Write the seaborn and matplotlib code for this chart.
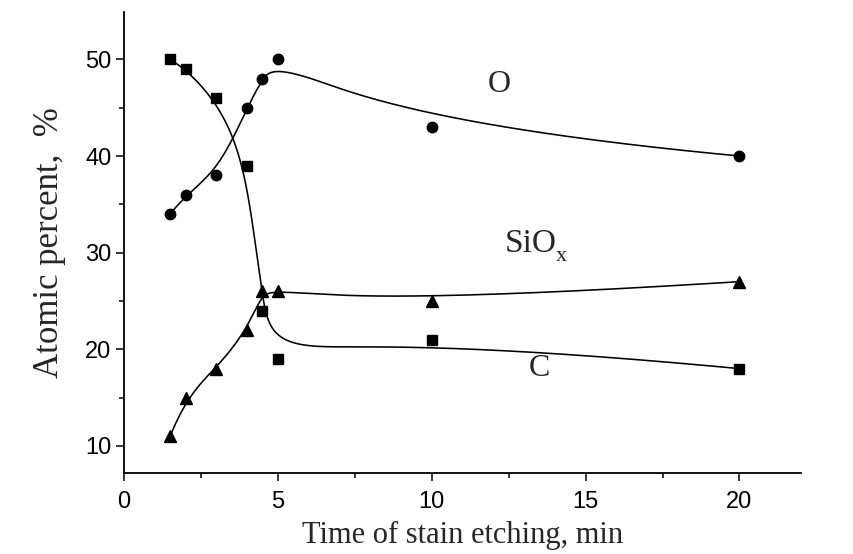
import numpy as np
import pandas as pd
import matplotlib
matplotlib.use("Agg")
import matplotlib.pyplot as plt
import seaborn as sns

# ---- data ----
time_min = [1.5, 2, 3, 4, 4.5, 5, 10, 20]
oxygen = [34, 36, 38, 45, 48, 50, 43, 40]
carbon = [50, 49, 46, 39, 24, 19, 21, 18]
siox = [11, 15, 18, 22, 26, 26, 25, 27]
x_ticks = [0, 5, 10, 15, 20]
y_ticks = [10, 20, 30, 40, 50]


def bspline(xs, ys, n=400, k=3):
    """Clamped uniform cubic B-spline with data points as control points."""
    P = np.column_stack([xs, ys]).astype(float)
    m = len(P)
    nint = m - k
    knots = np.concatenate([np.zeros(k), np.arange(nint + 1), np.full(k, nint)]).astype(float)
    ts = np.linspace(0, nint, n)
    out = []
    for t in ts:
        if t >= knots[-1]:
            t = knots[-1] - 1e-9
        N = np.array([1.0 if knots[i] <= t < knots[i + 1] else 0.0 for i in range(len(knots) - 1)])
        for d in range(1, k + 1):
            Nn = np.zeros(len(knots) - 1 - d)
            for i in range(len(Nn)):
                a = 0.0
                if knots[i + d] != knots[i]:
                    a = (t - knots[i]) / (knots[i + d] - knots[i]) * N[i]
                b = 0.0
                if knots[i + d + 1] != knots[i + 1]:
                    b = (knots[i + d + 1] - t) / (knots[i + d + 1] - knots[i + 1]) * N[i + 1]
                Nn[i] = a + b
            N = Nn
        out.append(N @ P)
    out = np.array(out)
    return out[:, 0], out[:, 1]


sns.set_style("ticks")
plt.rcParams["font.family"] = ["Liberation Sans Narrow", "Liberation Sans", "DejaVu Sans"]

fig = plt.figure(figsize=(8.54, 5.54), dpi=100)
ax = fig.add_axes([124 / 854, (554 - 473) / 554, (801 - 124) / 854, (473 - 12) / 554])

series = [("O", oxygen, "o", 7.5), ("C", carbon, "s", 7), ("SiOx", siox, "^", 8.5)]
for name, ys, mk, ms in series:
    cx, cy = bspline(time_min, ys)
    sns.lineplot(x=cx, y=cy, ax=ax, sort=False, color="black", linewidth=1.15, estimator=None)
    df = pd.DataFrame({"t": time_min, "v": ys})
    ax.plot(df["t"], df["v"], linestyle="none", marker=mk, markersize=ms, color="black")

ax.set_xlim(0, 22)
ax.set_ylim(7.2, 54.9)
ax.set_xticks(x_ticks)
ax.set_yticks(y_ticks)
ax.set_xticks(np.arange(2.5, 22, 5), minor=True)
ax.set_yticks(np.arange(15, 55, 10), minor=True)
ax.tick_params(axis="both", which="major", direction="out", length=6, width=1.1,
               labelsize=17, color="black", labelcolor="black")
ax.tick_params(axis="x", which="major", pad=7)
ax.tick_params(axis="y", which="major", pad=3)
ax.tick_params(axis="both", which="minor", direction="out", length=3.5, width=1.1, color="black")
for s in ["left", "bottom"]:
    ax.spines[s].set_linewidth(1.3)
    ax.spines[s].set_color("black")
for s in ["top", "right"]:
    ax.spines[s].set_visible(False)

serif = ["Liberation Serif", "DejaVu Serif"]
ax.set_xlabel("Time of stain etching, min", fontsize=22, family=serif, labelpad=6)
ax.set_ylabel("Atomic percent,  %", fontsize=25, family=serif, labelpad=14)

ax.text(12.2, 47.4, "O", fontsize=23, family=serif, ha="center", va="center")
t_sio = ax.text(12.37, 30.05, "SiO", fontsize=24, family=serif, ha="left", va="baseline")
ax.annotate("x", xy=(1, 0), xycoords=t_sio, xytext=(-0.5, -1.5), textcoords="offset points",
            fontsize=16, family=serif, ha="left", va="baseline")
ax.text(13.5, 18.0, "C", fontsize=23, family=serif, ha="center", va="center")

fig.savefig("out.png", dpi=100)
